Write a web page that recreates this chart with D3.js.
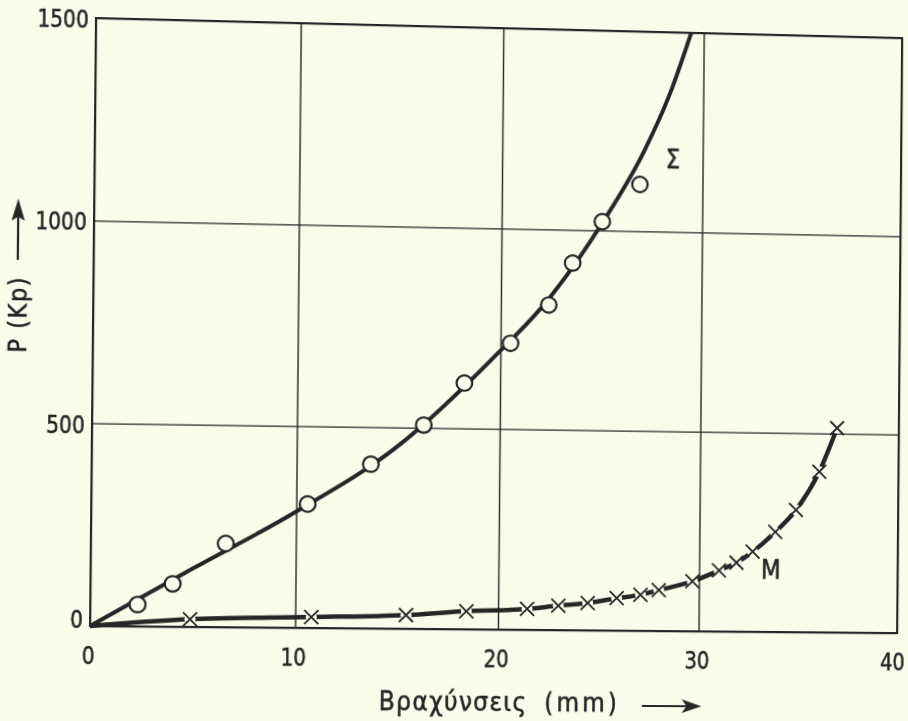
<!DOCTYPE html>
<html>
<head>
<meta charset="utf-8">
<script src="https://cdn.jsdelivr.net/npm/d3@7"></script>
<style>
  html, body { margin: 0; padding: 0; background: #fbfbea; }
  #chart { width: 908px; height: 721px; overflow: hidden; position: relative; background: #fbfbea; }
  #chart svg { position: absolute; left: 0; top: 0; transform-origin: 0 0; overflow: visible; }
  text { font-family: "DejaVu Sans Condensed", "DejaVu Sans", sans-serif; fill: #262626; stroke: #262626; stroke-width: 0.5px; }
</style>
</head>
<body>
<div id="chart"></div>
<script>
// axis ticks
const xTicks = [0, 10, 20, 30, 40];
const yTicks = [0, 500, 1000, 1500];

// Σ : measured points (circles)
const sigmaX = [2.3, 4.0, 6.57, 10.56, 13.65, 16.24, 18.23, 20.5, 22.38, 23.55, 25.01, 26.87];
const sigmaP = [54, 106, 207, 307, 408, 507, 613, 714, 811, 917, 1022, 1117];

// Σ : drawn curve
const sigmaCurveX = [0, 5, 10, 15, 19.55, 22.4, 25.1, 27.05, 28.34, 29.37];
const sigmaCurveP = [0, 145, 288, 455, 672, 828, 1026, 1199, 1347, 1500];

// M : measured points (crosses), line starts at origin
const mX = [4.86, 10.79, 15.45, 18.43, 21.44, 22.99, 24.45, 25.89, 27.08, 27.99, 29.67, 31.0, 31.87, 32.68, 33.81, 34.84, 36.0, 36.88];
const mP = [19, 27, 34, 45, 52, 61, 68, 81, 90, 102, 125, 153, 173, 201, 251, 307, 404, 514];

const ink = "#262626";
const bg = "#fbfbea";

const width = 908, height = 721;
const mL = 93, mT = 22, pw = 806, ph = 607;

const svg = d3.select("#chart")
  .append("svg")
  .attr("width", width)
  .attr("height", height);

const g = svg.append("g").attr("transform", `translate(${mL},${mT})`);

const x = d3.scaleLinear().domain([0, 40]).range([0, pw]);
const y = d3.scaleLinear().domain([0, 1500]).range([ph, 0]);

// squeeze glyphs a little, the lettering of the original is narrow
function narrow(sel, k) {
  sel.each(function() {
    const w = this.getComputedTextLength();
    d3.select(this).attr("textLength", w * k).attr("lengthAdjust", "spacingAndGlyphs");
  });
}

// Grid + tick labels
const xAxis = g.append("g")
  .attr("transform", `translate(0,${ph})`)
  .call(d3.axisBottom(x).tickValues(xTicks).tickSize(-ph).tickPadding(20).tickFormat(d3.format("d")));

const yAxis = g.append("g")
  .call(d3.axisLeft(y).tickValues(yTicks).tickSize(-pw).tickPadding(7).tickFormat(d3.format("d")));

[xAxis, yAxis].forEach(a => {
  a.select(".domain").remove();
  a.selectAll("line").attr("stroke", ink).attr("stroke-width", 1.4);
  a.selectAll("text")
    .style("font-size", "25px")
    .attr("fill", ink);
});
xAxis.selectAll("text").attr("dx", d => d === 40 ? -5 : -2);
yAxis.selectAll("text").attr("dy", d => d === 0 ? "0.05em" : "0.38em");
narrow(xAxis.selectAll("text"), 0.88);
narrow(yAxis.selectAll("text"), 0.88);

// Frame
g.append("rect")
  .attr("width", pw)
  .attr("height", ph)
  .attr("fill", "none")
  .attr("stroke", ink)
  .attr("stroke-width", 2);

// Σ curve
const sigmaCurve = sigmaCurveX.map((v, i) => [v, sigmaCurveP[i]]);
g.append("path")
  .datum(sigmaCurve)
  .attr("fill", "none")
  .attr("stroke", ink)
  .attr("stroke-width", 4)
  .attr("d", d3.line().x(d => x(d[0])).y(d => y(d[1])).curve(d3.curveMonotoneX));

g.selectAll(".sig")
  .data(sigmaX.map((v, i) => [v, sigmaP[i]]))
  .enter()
  .append("circle")
  .attr("cx", d => x(d[0]))
  .attr("cy", d => y(d[1]))
  .attr("r", 7.8)
  .attr("fill", bg)
  .attr("stroke", ink)
  .attr("stroke-width", 2.2);

// M curve
const mPts = [[0, 0]].concat(mX.map((v, i) => [v, mP[i]]));
g.append("path")
  .datum(mPts)
  .attr("fill", "none")
  .attr("stroke", ink)
  .attr("stroke-width", 4.5)
  .attr("d", d3.line().x(d => x(d[0])).y(d => y(d[1])).curve(d3.curveMonotoneX));

const cross = g.selectAll(".m")
  .data(mPts.slice(1))
  .enter()
  .append("g")
  .attr("transform", d => `translate(${x(d[0])},${y(d[1])})`);

cross.append("circle").attr("r", 5.5).attr("fill", bg);
cross.append("path")
  .attr("d", "M-7,-7L7,7M-7,7L7,-7")
  .attr("stroke", ink)
  .attr("stroke-width", 1.8);

// Curve labels
g.append("text")
  .attr("x", x(28.5)).attr("y", y(1182))
  .attr("dy", "0.36em")
  .attr("text-anchor", "middle")
  .style("font-size", "26px")
  .text("Σ");

g.append("text")
  .attr("x", x(33.6)).attr("y", y(157))
  .attr("dy", "0.36em")
  .attr("text-anchor", "middle")
  .style("font-size", "26px")
  .text("M");

// Axis titles
svg.append("text")
  .attr("transform", `translate(28,320) rotate(-90)`)
  .attr("text-anchor", "middle")
  .attr("textLength", 75)
  .attr("lengthAdjust", "spacing")
  .style("font-size", "25px")
  .text("P (Kp)");

svg.append("line")
  .attr("x1", 19).attr("y1", 265).attr("x2", 19).attr("y2", 222)
  .attr("stroke", ink).attr("stroke-width", 2.2);
svg.append("path")
  .attr("d", "M19,204L25.5,226L19,222L12.5,226Z")
  .attr("fill", ink);

svg.append("text")
  .attr("x", 378).attr("y", 711)
  .attr("textLength", 147)
  .attr("lengthAdjust", "spacing")
  .style("font-size", "26px")
  .text("Βραχύνσεις");

svg.append("text")
  .attr("x", 543).attr("y", 711)
  .attr("textLength", 73)
  .attr("lengthAdjust", "spacing")
  .style("font-size", "26px")
  .text("(mm)");

svg.append("line")
  .attr("x1", 641).attr("y1", 705).attr("x2", 688).attr("y2", 705)
  .attr("stroke", ink).attr("stroke-width", 2.2);
svg.append("path")
  .attr("d", "M701,705L681,698L686,705L681,712Z")
  .attr("fill", ink);

// Scan distortion: map the plot rectangle onto the skewed frame of the reference
function homography(src, dst) {
  const A = [], b = [];
  for (let i = 0; i < 4; i++) {
    const [sx, sy] = src[i], [u, v] = dst[i];
    A.push([sx, sy, 1, 0, 0, 0, -sx * u, -sy * u]); b.push(u);
    A.push([0, 0, 0, sx, sy, 1, -sx * v, -sy * v]); b.push(v);
  }
  const n = 8;
  for (let c = 0; c < n; c++) {
    let p = c;
    for (let r = c + 1; r < n; r++) if (Math.abs(A[r][c]) > Math.abs(A[p][c])) p = r;
    [A[c], A[p]] = [A[p], A[c]];
    [b[c], b[p]] = [b[p], b[c]];
    for (let r = 0; r < n; r++) {
      if (r === c) continue;
      const f = A[r][c] / A[c][c];
      for (let k = c; k < n; k++) A[r][k] -= f * A[c][k];
      b[r] -= f * b[c];
    }
  }
  return b.map((v, i) => v / A[i][i]);
}

const h = homography(
  [[mL, mT], [mL + pw, mT], [mL + pw, mT + ph], [mL, mT + ph]],
  [[96, 18], [902, 38], [897, 633], [90, 626]]
);
svg.style("transform",
  `matrix3d(${h[0]},${h[3]},0,${h[6]},${h[1]},${h[4]},0,${h[7]},0,0,1,0,${h[2]},${h[5]},0,1)`);
</script>
</body>
</html>
